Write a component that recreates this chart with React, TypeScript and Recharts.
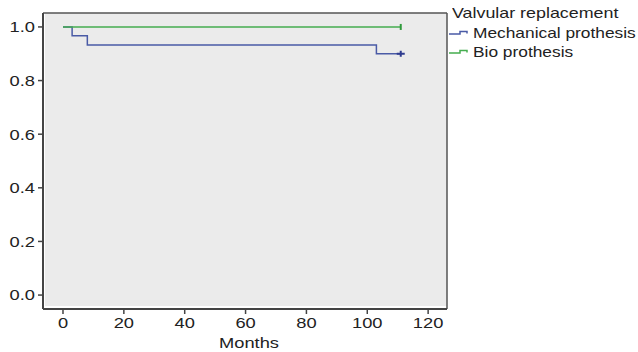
import { ComposedChart, Line, XAxis, YAxis, ReferenceArea, ReferenceLine } from 'recharts';

const mechMonths = [0, 3, 8, 103, 111];
const mechSurvival = [1, 0.967, 0.933, 0.9, 0.9];
const bioMonths = [0, 111];
const bioSurvival = [1, 1];
const xTicks = [0, 20, 40, 60, 80, 100, 120];
const yTicks = [0, 0.2, 0.4, 0.6, 0.8, 1.0];
const legendTitle = 'Valvular replacement';
const seriesNames = ['Mechanical prothesis', 'Bio prothesis'];

const mechData = mechMonths.map((m, i) => ({ month: m, survival: mechSurvival[i] }));
const bioData = bioMonths.map((m, i) => ({ month: m, survival: bioSurvival[i] }));

const FONT = '"Liberation Sans", Arial, sans-serif';
const SX = 1.22;
const BLUE = '#4a5ba6';
const GREEN = '#45ad4f';
const AXIS = '#444';

const YTick = (props: any) => {
  const { x, y, payload } = props;
  return (
    <g transform={`translate(${x},${y})`}>
      <text transform={`scale(${SX},1)`} textAnchor="end" dy="0.36em" fontSize={15} fontFamily={FONT} fill="#222">
        {Number(payload.value).toFixed(1)}
      </text>
    </g>
  );
};

const XTick = (props: any) => {
  const { x, y, payload } = props;
  return (
    <g transform={`translate(${x},${y})`}>
      <text transform={`scale(${SX},1)`} textAnchor="middle" dy="0.75em" fontSize={15} fontFamily={FONT} fill="#222">
        {payload.value}
      </text>
    </g>
  );
};

const MonthsLabel = (props: any) => {
  const { viewBox } = props;
  const cx = viewBox.x + viewBox.width / 2 + 4;
  return (
    <g transform={`translate(${cx},${viewBox.y + 39})`}>
      <text transform={`scale(${SX},1)`} textAnchor="middle" fontSize={15} fontFamily={FONT} fill="#222">
        Months
      </text>
    </g>
  );
};

const censor = (color: string, wide: boolean, lastX: number) => (props: any) => {
  const { cx, cy, payload, index } = props;
  if (payload.month !== lastX) return <g key={index} />;
  return (
    <g key={index} stroke={color} strokeWidth={2}>
      {wide && <line x1={cx - 4} x2={cx + 4} y1={cy} y2={cy} />}
      <line x1={cx} x2={cx} y1={cy - 3} y2={cy + 3} />
    </g>
  );
};

const legendText = (scale: number) => ({
  display: 'inline-block',
  transform: `scaleX(${scale})`,
  transformOrigin: 'left center',
});

const LegendRow = ({ color, label, top }: { color: string; label: string; top: number }) => (
  <div style={{ position: 'absolute', left: 449, top, height: 19, whiteSpace: 'nowrap' }}>
    <svg width={22} height={19} style={{ position: 'absolute', left: 0, top: 0 }}>
      <path d="M0 11 H11 V8.5 H18 V10.5" fill="none" stroke={color} strokeWidth={1.5} />
    </svg>
    <span style={{ position: 'absolute', left: 24, top: 0, ...legendText(1.155) }}>{label}</span>
  </div>
);

const LegendBox = () => (
  <div style={{ fontFamily: FONT, fontSize: 15, color: '#222', lineHeight: '19px' }}>
    <div style={{ position: 'absolute', left: 452, top: 3, whiteSpace: 'nowrap' }}>
      <span style={legendText(1.19)}>{legendTitle}</span>
    </div>
    <LegendRow color={BLUE} label={seriesNames[0]} top={23} />
    <LegendRow color={GREEN} label={seriesNames[1]} top={42} />
  </div>
);

export default function App() {
  return (
    <div style={{ position: 'absolute', left: 0, top: 0, width: 638, height: 352, background: '#fff', overflow: 'hidden' }}>
      <ComposedChart width={638} height={352} margin={{ top: 13, right: 191, left: 0, bottom: 0 }}>
        <XAxis
          dataKey="month"
          type="number"
          domain={[-6.57, 126.2]}
          ticks={xTicks}
          allowDuplicatedCategory={false}
          height={43}
          tick={<XTick />}
          tickSize={5}
          tickMargin={3}
          axisLine={{ stroke: AXIS, strokeWidth: 2 }}
          tickLine={{ stroke: AXIS, strokeWidth: 1.5 }}
          label={<MonthsLabel />}
        />
        <YAxis
          dataKey="survival"
          type="number"
          domain={[-0.052, 1.052]}
          ticks={yTicks}
          width={43}
          tick={<YTick />}
          tickSize={5}
          tickMargin={3}
          axisLine={{ stroke: AXIS, strokeWidth: 2 }}
          tickLine={{ stroke: AXIS, strokeWidth: 1.5 }}
        />
        <ReferenceArea x1={-5.9} x2={126.2} y1={-0.041} y2={1.052} fill="#ebebeb" fillOpacity={1} stroke="none" />
        <ReferenceLine y={1.052} stroke="#555" strokeWidth={1.5} />
        <ReferenceLine x={126.2} stroke="#555" strokeWidth={1.5} />
        <Line
          data={mechData}
          dataKey="survival"
          type="stepAfter"
          stroke={BLUE}
          strokeWidth={1.5}
          dot={censor('#2e3b8f', true, mechMonths[mechMonths.length - 1])}
          activeDot={false}
          isAnimationActive={false}
        />
        <Line
          data={bioData}
          dataKey="survival"
          type="stepAfter"
          stroke={GREEN}
          strokeWidth={1.5}
          dot={censor('#2f9a3b', false, bioMonths[bioMonths.length - 1])}
          activeDot={false}
          isAnimationActive={false}
        />
      </ComposedChart>
      <LegendBox />
    </div>
  );
}
